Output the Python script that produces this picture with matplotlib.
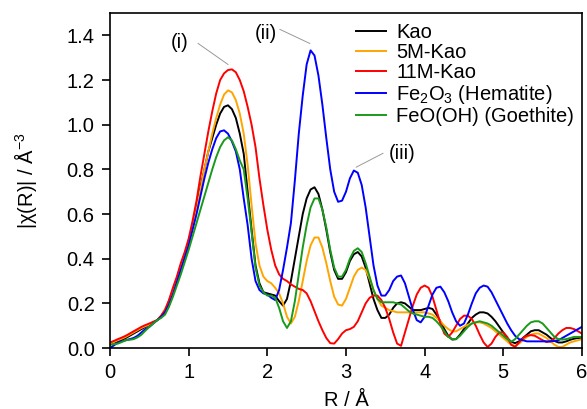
import numpy as np
import matplotlib
matplotlib.use('Agg')
import matplotlib.pyplot as plt

plt.rcParams['font.family'] = ['Liberation Sans', 'DejaVu Sans']
plt.rcParams['mathtext.fontset'] = 'custom'
plt.rcParams['mathtext.rm'] = 'Liberation Sans'

# R grid (Angstrom), 0.05 step; each row below covers 0.5 Angstrom
r = np.round(np.arange(0, 6.001, 0.05), 2)

kao = [0.02, 0.025, 0.03, 0.037, 0.045, 0.055, 0.065, 0.075, 0.085, 0.095,
       0.105, 0.115, 0.125, 0.14, 0.17, 0.21, 0.26, 0.31, 0.37, 0.42,
       0.48, 0.55, 0.63, 0.72, 0.80, 0.88, 0.94, 1.00, 1.05, 1.08,
       1.087, 1.07, 1.03, 0.96, 0.87, 0.70, 0.53, 0.37, 0.29, 0.25,
       0.245, 0.24, 0.235, 0.21, 0.19, 0.22, 0.30, 0.40, 0.50, 0.60,
       0.67, 0.71, 0.72, 0.69, 0.62, 0.53, 0.43, 0.35, 0.31, 0.31,
       0.34, 0.39, 0.42, 0.43, 0.41, 0.36, 0.29, 0.22, 0.17, 0.135,
       0.135, 0.15, 0.18, 0.20, 0.205, 0.20, 0.185, 0.17, 0.17, 0.17,
       0.175, 0.18, 0.175, 0.15, 0.12, 0.085, 0.055, 0.038, 0.04, 0.06,
       0.085, 0.11, 0.135, 0.15, 0.16, 0.16, 0.155, 0.14, 0.12, 0.095,
       0.07, 0.045, 0.028, 0.022, 0.03, 0.045, 0.06, 0.075, 0.08, 0.08,
       0.07, 0.06, 0.045, 0.032, 0.025, 0.025, 0.03, 0.037, 0.042, 0.045,
       0.045]

kao_5m = [0.02, 0.027, 0.035, 0.042, 0.05, 0.06, 0.07, 0.08, 0.09, 0.098,
          0.105, 0.115, 0.125, 0.145, 0.175, 0.21, 0.26, 0.31, 0.37, 0.42,
          0.47, 0.54, 0.62, 0.71, 0.80, 0.88, 0.96, 1.03, 1.09, 1.135,
          1.154, 1.145, 1.11, 1.05, 0.96, 0.82, 0.64, 0.47, 0.37, 0.32,
          0.30, 0.29, 0.27, 0.245, 0.20, 0.14, 0.11, 0.14, 0.21, 0.30,
          0.39, 0.46, 0.495, 0.495, 0.45, 0.38, 0.30, 0.23, 0.195, 0.19,
          0.22, 0.27, 0.32, 0.35, 0.36, 0.35, 0.31, 0.26, 0.22, 0.19,
          0.18, 0.17, 0.165, 0.16, 0.16, 0.16, 0.16, 0.16, 0.16, 0.16,
          0.16, 0.155, 0.15, 0.135, 0.12, 0.10, 0.085, 0.075, 0.075, 0.085,
          0.095, 0.105, 0.11, 0.115, 0.115, 0.11, 0.10, 0.09, 0.075, 0.06,
          0.045, 0.03, 0.015, 0.01, 0.02, 0.035, 0.05, 0.06, 0.065, 0.065,
          0.055, 0.045, 0.03, 0.015, 0.005, 0.005, 0.015, 0.025, 0.03, 0.035,
          0.04]

kao_11m = [0.025, 0.032, 0.04, 0.047, 0.055, 0.065, 0.075, 0.085, 0.095, 0.103,
           0.11, 0.118, 0.125, 0.145, 0.17, 0.215, 0.27, 0.32, 0.38, 0.43,
           0.49, 0.57, 0.66, 0.77, 0.87, 0.97, 1.06, 1.14, 1.20, 1.23,
           1.245, 1.248, 1.235, 1.20, 1.15, 1.08, 1.0, 0.90, 0.76, 0.64,
           0.53, 0.44, 0.37, 0.33, 0.31, 0.30, 0.285, 0.275, 0.265, 0.26,
           0.245, 0.21, 0.165, 0.12, 0.08, 0.045, 0.022, 0.02, 0.04, 0.065,
           0.08, 0.085, 0.095, 0.12, 0.16, 0.20, 0.225, 0.235, 0.235, 0.215,
           0.18, 0.13, 0.07, 0.02, 0.01, 0.07, 0.13, 0.19, 0.24, 0.27,
           0.28, 0.27, 0.23, 0.17, 0.11, 0.065, 0.05, 0.07, 0.10, 0.13,
           0.145, 0.145, 0.13, 0.10, 0.06, 0.025, 0.005, 0.02, 0.05, 0.07,
           0.07, 0.05, 0.015, 0.005, 0.025, 0.045, 0.055, 0.058, 0.055, 0.045,
           0.035, 0.027, 0.03, 0.045, 0.065, 0.08, 0.09, 0.09, 0.085, 0.075,
           0.065]

hematite = [0.0, 0.012, 0.025, 0.03, 0.035, 0.04, 0.045, 0.055, 0.07, 0.085,
            0.095, 0.11, 0.125, 0.14, 0.16, 0.195, 0.24, 0.295, 0.35, 0.405,
            0.46, 0.53, 0.60, 0.68, 0.76, 0.83, 0.89, 0.94, 0.97, 0.975,
            0.96, 0.925, 0.88, 0.80, 0.67, 0.55, 0.40, 0.30, 0.26, 0.245,
            0.24, 0.225, 0.215, 0.26, 0.35, 0.45, 0.56, 0.75, 0.96, 1.13,
            1.27, 1.333, 1.31, 1.22, 1.09, 0.94, 0.80, 0.70, 0.655, 0.66,
            0.70, 0.76, 0.795, 0.785, 0.73, 0.63, 0.50, 0.37, 0.28, 0.235,
            0.235, 0.26, 0.30, 0.32, 0.325, 0.29, 0.23, 0.17, 0.125, 0.115,
            0.14, 0.19, 0.24, 0.27, 0.275, 0.25, 0.21, 0.16, 0.12, 0.10,
            0.11, 0.15, 0.20, 0.245, 0.27, 0.28, 0.275, 0.25, 0.215, 0.18,
            0.145, 0.11, 0.08, 0.055, 0.04, 0.035, 0.03, 0.03, 0.03, 0.03,
            0.03, 0.03, 0.03, 0.032, 0.035, 0.045, 0.055, 0.065, 0.075, 0.085,
            0.095]

goethite = [0.015, 0.017, 0.02, 0.027, 0.035, 0.037, 0.04, 0.048, 0.06, 0.078,
            0.095, 0.11, 0.125, 0.135, 0.15, 0.185, 0.23, 0.28, 0.33, 0.385,
            0.44, 0.50, 0.56, 0.62, 0.68, 0.74, 0.80, 0.855, 0.90, 0.93,
            0.944, 0.93, 0.89, 0.84, 0.80, 0.67, 0.52, 0.36, 0.28, 0.25,
            0.235, 0.235, 0.225, 0.18, 0.12, 0.09, 0.12, 0.21, 0.33, 0.45,
            0.55, 0.63, 0.67, 0.67, 0.62, 0.54, 0.44, 0.36, 0.32, 0.32,
            0.35, 0.40, 0.435, 0.447, 0.43, 0.38, 0.32, 0.26, 0.22, 0.205,
            0.205, 0.205, 0.205, 0.20, 0.195, 0.18, 0.165, 0.155, 0.15, 0.145,
            0.14, 0.14, 0.135, 0.12, 0.10, 0.075, 0.05, 0.04, 0.04, 0.055,
            0.075, 0.095, 0.11, 0.115, 0.12, 0.115, 0.11, 0.10, 0.085, 0.07,
            0.055, 0.04, 0.028, 0.04, 0.06, 0.08, 0.10, 0.115, 0.12, 0.12,
            0.11, 0.09, 0.07, 0.05, 0.04, 0.038, 0.04, 0.045, 0.05, 0.05,
            0.05]

labels = ['Kao', '5M-Kao', '11M-Kao', 'Fe$_2$O$_3$ (Hematite)', 'FeO(OH) (Goethite)']
colors = ['black', '#ffa500', '#ff0000', '#0000ff', '#1a9a1a']
series = [kao, kao_5m, kao_11m, hematite, goethite]

fs = 14.5

fig = plt.figure(figsize=(5.87, 4.09), dpi=100)
ax = fig.add_axes([0.1874, 0.149, 0.804, 0.819])

for y, c, lab in zip(series, colors, labels):
    ax.plot(r, y, color=c, lw=1.4, label=lab)

# peak labels with leader lines
notes = [('(i)', (0.89, 1.37), (1.12, 1.364), (1.50, 1.27)),
         ('(ii)', (1.98, 1.41), (2.16, 1.427), (2.54, 1.364)),
         ('(iii)', (3.71, 0.87), (3.47, 0.872), (3.13, 0.81))]
for txt, tpos, p0, p1 in notes:
    ax.text(tpos[0], tpos[1], txt, fontsize=fs, ha='center', va='center')
    ax.plot([p0[0], p1[0]], [p0[1], p1[1]], color='#999999', lw=0.7)

ax.set_xlim(0, 6)
ax.set_ylim(0, 1.5)
ax.set_xticks(range(0, 7))
ax.set_yticks(np.arange(0, 1.41, 0.2))
ax.set_yticklabels([f'{v:.1f}' for v in np.arange(0, 1.41, 0.2)])
ax.tick_params(direction='out', length=6, width=1.2, pad=5, labelsize=fs)
for s in ax.spines.values():
    s.set_linewidth(1.2)

ax.set_xlabel('R / Å', fontsize=fs, labelpad=6)
ax.set_ylabel('|χ(R)| / Å$^{-3}$', fontsize=fs, labelpad=20)

ax.legend(loc='upper right', frameon=False, fontsize=fs, handlelength=1.5,
          labelspacing=0.05, handletextpad=0.5, borderaxespad=0.0,
          bbox_to_anchor=(1.0, 0.995))

fig.savefig('out.png', dpi=100)
